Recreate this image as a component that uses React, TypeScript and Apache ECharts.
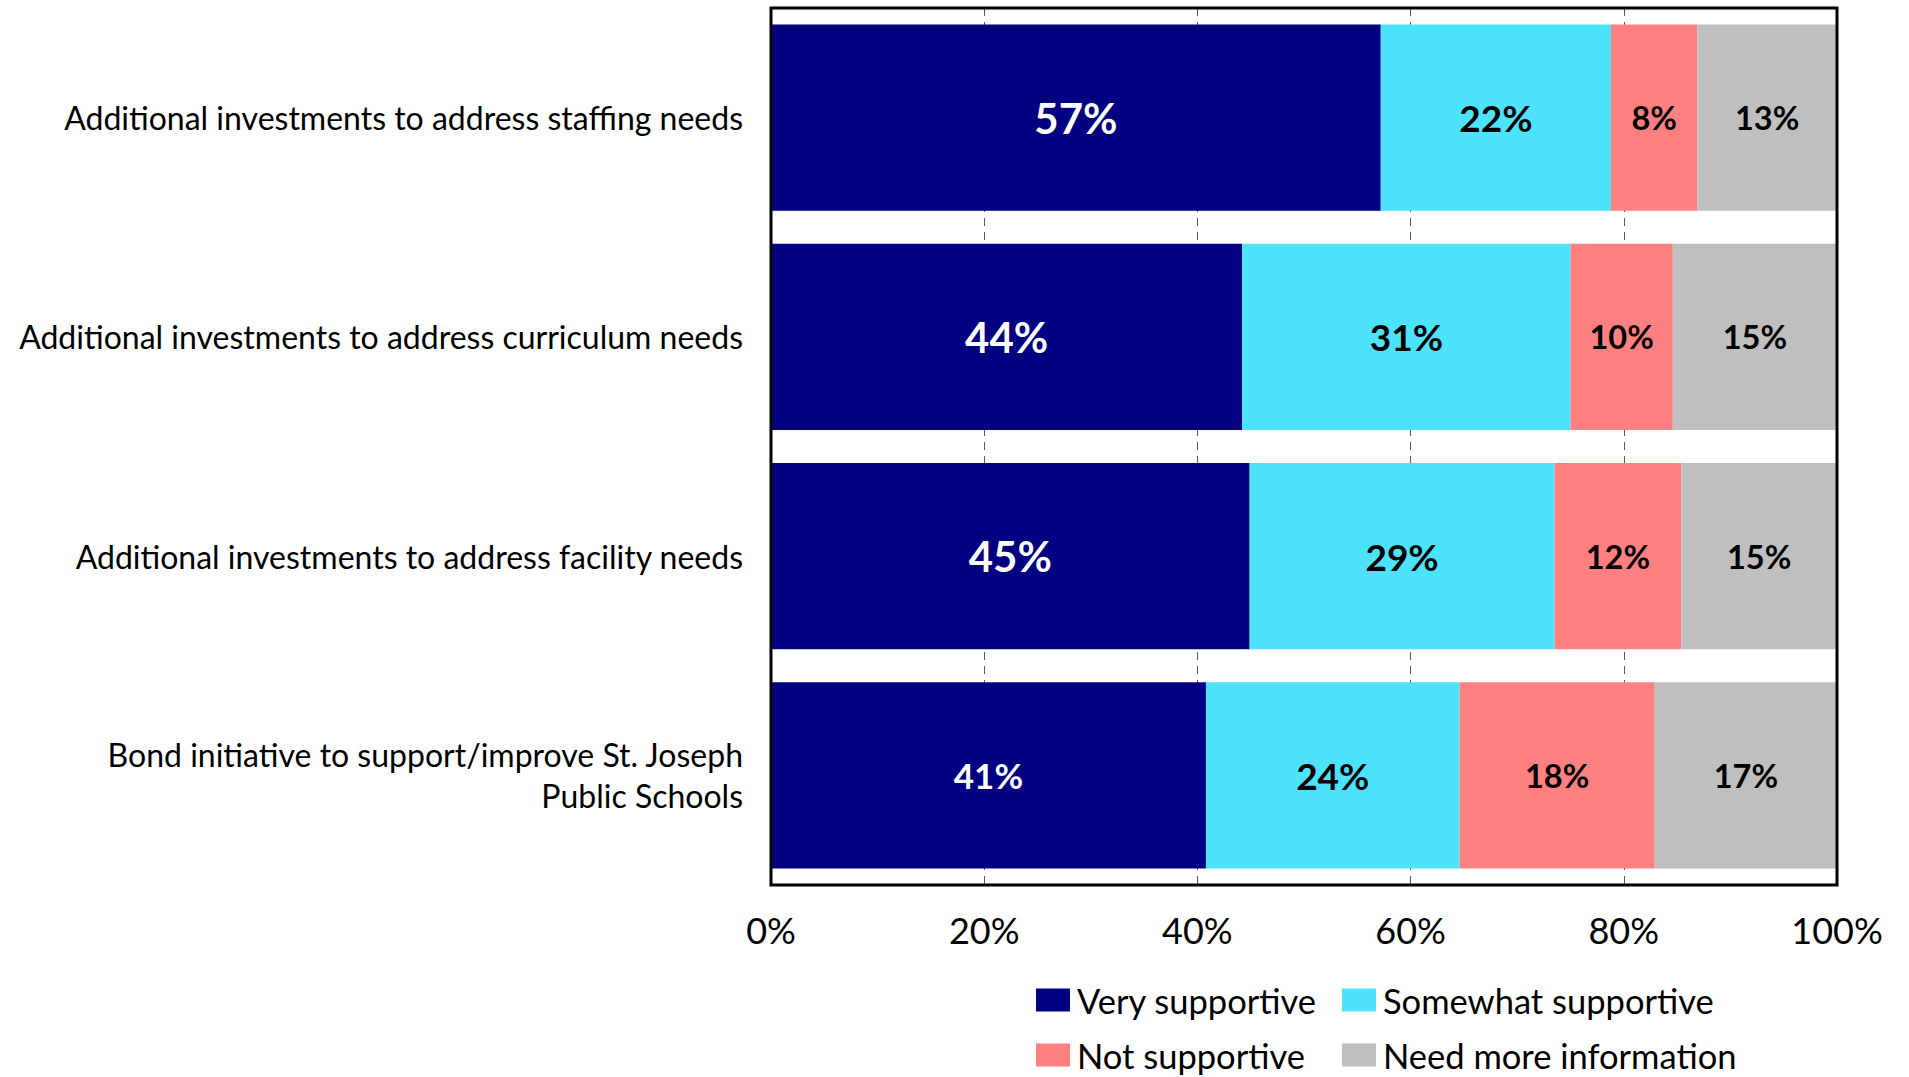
import React, { useEffect, useRef } from "react";
import * as echarts from "echarts";

const categories = [
  "Additional investments to address staffing needs",
  "Additional investments to address curriculum needs",
  "Additional investments to address facility needs",
  "Bond initiative to support/improve St. Joseph\nPublic Schools",
];
const verySupportive = [57.2, 44.2, 44.9, 40.8];
const somewhatSupportive = [21.6, 30.8, 28.6, 23.8];
const notSupportive = [8.1, 9.6, 11.9, 18.3];
const needMoreInfo = [13.1, 15.4, 14.6, 17.1];
const veryLabels = ["57%", "44%", "45%", "41%"];
const somewhatLabels = ["22%", "31%", "29%", "24%"];
const notLabels = ["8%", "10%", "12%", "18%"];
const needLabels = ["13%", "15%", "15%", "17%"];
const xTicks = [0, 20, 40, 60, 80, 100];
const legendNames = ["Very supportive", "Somewhat supportive", "Not supportive", "Need more information"];

const FONT = "Lato";
const GRID = { left: 771, top: 8, width: 1066, height: 877 };

export default function App() {
  const ref = useRef<HTMLDivElement>(null);
  useEffect(() => {
    if (!ref.current) return;
    const chart = echarts.init(ref.current, null, { renderer: "svg" });
    const mk = (
      name: string,
      values: number[],
      labels: string[],
      color: string,
      textColor: string,
      sizes: number[]
    ) => ({
      name,
      type: "bar",
      stack: "total",
      barWidth: "85%",
      itemStyle: { color },
      data: values.map((v, i) => ({
        value: v,
        label: { fontSize: sizes[i] },
      })),
      label: {
        show: true,
        position: "inside",
        color: textColor,
        fontWeight: "bold",
        fontFamily: FONT,
        formatter: (p: any) => labels[p.dataIndex],
      },
    });
    const legendPos = [
      { left: 1036, top: 982 },
      { left: 1342, top: 982 },
      { left: 1036, top: 1037 },
      { left: 1342, top: 1037 },
    ];
    chart.setOption({
      animation: false,
      backgroundColor: "#ffffff",
      grid: { left: GRID.left, top: GRID.top, width: GRID.width, height: GRID.height, containLabel: false },
      xAxis: {
        type: "value",
        min: 0,
        max: 100,
        interval: 20,
        axisLine: { show: false },
        axisTick: { show: false },
        axisLabel: {
          formatter: (v: number) => (xTicks.includes(v) ? v + "%" : ""),
          fontFamily: FONT,
          fontSize: 36,
          color: "#000",
          margin: 27,
        },
        splitLine: { show: true, lineStyle: { color: "#595959", type: [8, 6], width: 1 } },
      },
      yAxis: {
        type: "category",
        inverse: true,
        data: categories,
        axisLine: { show: false },
        axisTick: { show: false },
        axisLabel: {
          fontFamily: FONT,
          fontSize: 32,
          color: "#000",
          margin: 28,
          lineHeight: 41,
          align: "right",
        },
      },
      legend: legendNames.map((n, i) => ({
        data: [n],
        orient: "horizontal",
        left: legendPos[i].left,
        top: legendPos[i].top,
        icon: "rect",
        itemWidth: 34,
        itemHeight: 23,
        itemGap: 10,
        padding: 0,
        textStyle: { fontFamily: FONT, fontSize: 34.5, color: "#000", lineHeight: 36, padding: [0, 0, 0, 2] },
      })),
      graphic: [
        {
          type: "rect",
          z: 100,
          shape: { x: GRID.left, y: GRID.top, width: GRID.width, height: GRID.height },
          style: { fill: "none", stroke: "#000", lineWidth: 3 },
          silent: true,
        },
      ],
      series: [
        mk("Very supportive", verySupportive, veryLabels, "#000080", "#ffffff", [42, 42, 42, 35]),
        mk("Somewhat supportive", somewhatSupportive, somewhatLabels, "#4DE3FC", "#000000", [37, 37, 37, 37]),
        mk("Not supportive", notSupportive, notLabels, "#FF8080", "#000000", [32.5, 32.5, 32.5, 32.5]),
        mk("Need more information", needMoreInfo, needLabels, "#BFBFBF", "#000000", [32.5, 32.5, 32.5, 32.5]),
      ],
    });
    return () => chart.dispose();
  }, []);
  return (
    <div
      ref={ref}
      style={{ position: "fixed", left: 0, top: 0, width: 1909, height: 1077, background: "#fff" }}
    />
  );
}
